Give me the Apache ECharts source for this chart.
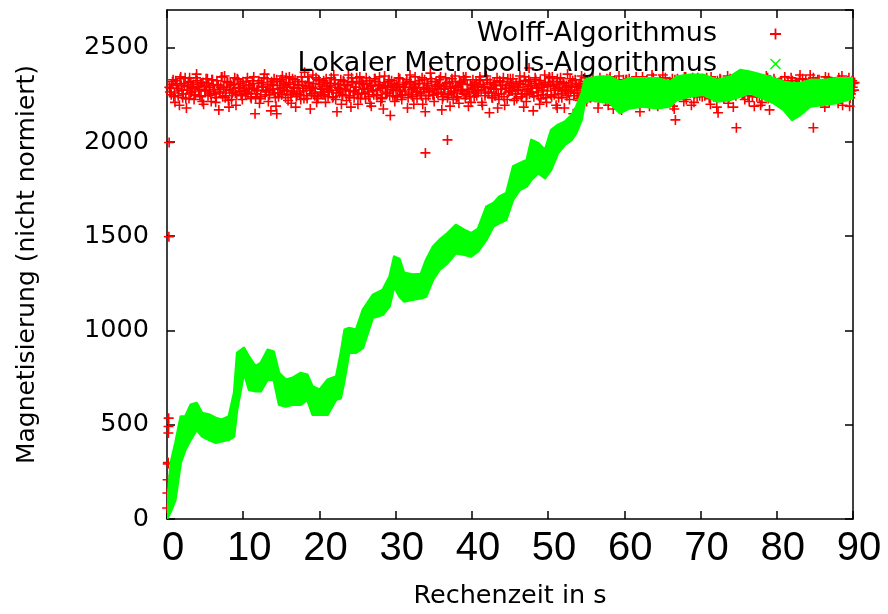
<!DOCTYPE html>
<html><head><meta charset="utf-8">
<script src="https://cdn.jsdelivr.net/npm/echarts@6/dist/echarts.min.js"></script>
<style>html,body{margin:0;padding:0;background:#fff}#c{width:888px;height:614px}</style>
</head><body><div id="c"></div>
<script>
// ---- Data ----
const xTickValues = [0,10,20,30,40,50,60,70,80,90];
const yTickValues = [0,500,1000,1500,2000,2500];

// Wolff algorithm: magnetisation samples (three interleaved runs of readings, step 0.25 s)
const wolffStep = 0.25;
const wolffStartA = 0.3;
const wolffA = [
2290,2250,2330,2210,2310,2270,2345,2235,2300,2180,2320,2260,2285,2225,2340,2295,2245,2310,2200,2275,
2335,2265,2215,2300,2255,2325,2170,2290,2240,2350,2280,2220,2315,2260,2305,2195,2330,2270,2245,2300,
2255,2340,2285,2230,2310,2150,2275,2325,2240,2295,2360,2265,2215,2305,2280,2335,2190,2260,2320,2250,
2310,2235,2290,2345,2205,2270,2330,2255,2300,2225,2285,2370,2245,2315,2175,2290,2260,2340,2230,2305,
2280,2325,2210,2295,2265,2340,2240,2310,2160,2285,2330,2250,2300,2220,2355,2270,2315,2235,2290,2200,
2345,2260,2305,2230,2285,2325,2190,2275,2335,2245,2300,2215,2290,2350,2255,2320,2140,2280,2310,2240,
2295,2335,2225,2305,2270,2180,2320,2250,2290,2345,2230,2310,2265,2200,2330,2285,2245,2365,2275,2215,
2320,2255,2300,2170,2285,2340,2235,2310,2265,2225,2350,2290,2205,2315,2270,2330,2250,2190,2305,2280,
2240,2315,2275,2345,2210,2295,2260,2330,2155,2285,2305,2245,2340,2225,2280,2320,2195,2300,2265,2335,
2270,2220,2310,2290,2350,2240,2185,2325,2280,2255,2300,2165,2340,2265,2305,2230,2290,2355,2210,2315,
2300,2345,2250,2195,2285,2320,2235,2310,2270,2360,2225,2295,2150,2330,2260,2305,2245,2285,2340,2215,
2285,2235,2325,2270,2300,2180,2340,2255,2310,2220,2290,2335,2245,2175,2315,2275,2350,2230,2300,2260,
2330,2265,2205,2305,2280,2345,2240,2160,2295,2320,2255,2310,2190,2270,2340,2225,2300,2285,2245,2355,
2260,2310,2290,2230,2335,2175,2280,2325,2250,2300,2215,2345,2270,2305,2195,2290,2330,2240,2315,2275,
2305,2245,2340,2285,2200,2320,2265,2295,2155,2335,2275,2230,2310,2350,2250,2290,2185,2325,2260,2300,
2280,2335,2225,2300,2265,2345,2240,2190,2315,2285,2330,2210,2295,2255,2340,2170,2305,2270,2320,2235,
2315,2260,2290,2345,2235,2300,2175,2325,2275,2250,2310,2355,2220,2285,2330,2200,2295,2265,2340,2245,
2290,2330,2250,2305,2185,2275,2340,2230,2310,2265,2320,2205,2300,2350,2240,2285,2325,2190,2270,2310
];
const wolffStartB = 0.383;
const wolffB = [
2265,2305,2240,2325,2285,2195,2300,2255,2340,2275,2230,2315,2290,2250,2360,2270,2310,2215,2295,2335,
2245,2290,2330,2270,2210,2305,2260,2345,2280,2235,2320,2185,2300,2265,2340,2250,2290,2310,2225,2275,
2320,2255,2300,2280,2345,2235,2270,2205,2315,2290,2250,2335,2275,2165,2305,2260,2330,2240,2285,2350,
2275,2340,2220,2305,2260,2290,2185,2320,2250,2345,2270,2300,2230,2315,2285,2355,2245,2210,2330,2265,
2295,2250,2335,2240,2310,2275,2355,2225,2290,2260,2200,2325,2280,2305,2245,2185,2320,2270,2340,2255,
2230,2310,2285,2340,2265,2205,2300,2250,2320,2275,2345,2235,2175,2295,2260,2330,2290,2245,2215,2305,
2340,2270,2250,2290,2315,2235,2355,2280,2200,2305,2265,2325,2245,2290,2160,2310,2270,2335,2250,2285,
2260,2300,2345,2225,2280,2310,2255,2190,2335,2270,2295,2240,2320,2275,2345,2230,2305,2265,2210,2330,
2305,2245,2270,2330,2195,2290,2350,2260,2315,2235,2280,2300,2180,2325,2255,2340,2285,2225,2300,2270,
2335,2290,2230,2275,2310,2255,2345,2215,2295,2320,2265,2240,2330,2285,2200,2305,2250,2315,2270,2345,
2250,2320,2285,2305,2235,2340,2270,2180,2300,2260,2335,2290,2245,2310,2275,2220,2350,2265,2295,2230,
2310,2270,2340,2245,2290,2215,2325,2280,2255,2300,2195,2345,2265,2320,2235,2305,2280,2170,2330,2290,
2275,2335,2250,2290,2320,2260,2205,2305,2345,2240,2280,2315,2230,2355,2270,2295,2190,2325,2255,2300,
2340,2240,2300,2265,2190,2330,2285,2250,2315,2275,2345,2225,2295,2260,2320,2210,2280,2340,2245,2305,
2265,2315,2285,2230,2345,2270,2305,2185,2290,2330,2250,2310,2275,2205,2335,2260,2300,2245,2320,2280,
2300,2255,2330,2275,2215,2310,2290,2345,2240,2265,2195,2320,2285,2350,2230,2305,2270,2335,2255,2290,
2245,2325,2270,2305,2285,2230,2340,2260,2175,2315,2290,2250,2335,2275,2300,2240,2355,2215,2285,2320,
2330,2280,2240,2295,2345,2265,2210,2320,2285,2250,2305,2340,2270,2195,2315,2260,2290,2235,2325,2275
];
const wolffStartC = 0.467;
const wolffC = [
2285,2320,2260,2300,2245,2335,2275,2310,2230,2295,2340,2265,2305,2250,2325,2280,2240,2315,2270,2300,
2310,2255,2330,2280,2235,2300,2265,2345,2290,2245,2315,2275,2225,2305,2260,2335,2285,2250,2320,2270,
2265,2300,2240,2325,2285,2255,2310,2230,2290,2340,2270,2305,2250,2320,2280,2235,2300,2260,2330,2290,
2300,2270,2315,2250,2335,2285,2240,2305,2265,2320,2230,2295,2345,2275,2255,2310,2285,2240,2325,2260,
2250,2315,2285,2270,2300,2235,2330,2260,2305,2280,2245,2320,2270,2300,2235,2340,2265,2290,2255,2310,
2320,2280,2255,2310,2240,2295,2270,2335,2250,2305,2285,2230,2315,2265,2300,2245,2325,2275,2290,2240,
2275,2245,2305,2290,2330,2260,2315,2240,2285,2270,2310,2255,2340,2280,2230,2300,2265,2320,2250,2295,
2305,2330,2265,2240,2295,2315,2250,2285,2320,2260,2235,2300,2275,2310,2255,2345,2280,2240,2300,2270,
2260,2290,2325,2275,2305,2245,2330,2265,2290,2235,2315,2280,2255,2320,2300,2240,2285,2335,2270,2310,
2295,2255,2280,2320,2240,2305,2270,2250,2330,2285,2260,2310,2290,2245,2325,2275,2305,2235,2295,2340,
2240,2305,2275,2335,2290,2255,2315,2280,2245,2300,2270,2325,2260,2295,2230,2310,2285,2250,2320,2265,
2325,2270,2300,2255,2315,2285,2240,2310,2265,2335,2290,2250,2305,2275,2320,2245,2300,2260,2285,2330,
2270,2310,2245,2295,2260,2320,2285,2305,2240,2275,2330,2290,2255,2315,2265,2300,2235,2325,2280,2250,
2300,2265,2320,2280,2250,2305,2335,2260,2295,2315,2245,2285,2310,2270,2340,2255,2295,2275,2305,2240,
2285,2330,2255,2310,2270,2240,2300,2325,2265,2290,2250,2320,2280,2235,2305,2275,2315,2260,2295,2335,
2255,2290,2315,2245,2305,2280,2265,2330,2300,2240,2285,2310,2255,2325,2270,2295,2245,2310,2280,2300,
2315,2275,2240,2300,2325,2260,2290,2250,2310,2285,2335,2270,2300,2245,2280,2320,2265,2295,2240,2305,
2270,2305,2290,2235,2315,2275,2250,2320,2285,2300,2260,2330,2245,2295,2310,2270,2340,2255,2290,2315
];
// Wolff: start-up points and isolated outliers
const wolffExtraT = [0.02,0.05,0.08,0.1,0.12,0.15,0.18,0.2,0.22,0.25,0.28,14.4,33.9,36.8,47.5,51.2,66.7,74.7,84.8];
const wolffExtraM = [58,138,208,292,300,297,456,491,535,1497,1997,2150,1942,2011,2392,2180,2117,2075,2075];

// Local Metropolis algorithm: lower / upper edge of the dense band of points
const metroT  = [0,0.5,1.1,1.8,2.4,3.1,3.9,4.6,5.5,6.4,7.2,8.1,8.8,9.2,10.1,10.75,11.6,12.3,13.2,14.0,14.7,15.6,16.4,17.55,18.4,19.1,20.0,21.05,22.2,22.8,23.3,23.9,24.8,25.7,27.0,28.3,29.2,29.8,30.5,31.1,32.2,33.3,34.0,34.9,35.75,36.8,37.9,39.0,39.9,40.8,41.9,42.8,43.6,44.5,45.4,46.3,47.2,47.8,48.7,49.6,50.4,51.3,52.2,53.1,53.7,54.4,54.8,55.5,56.8,58.1,59.4,60.75,62.5,64.3,66.0,66.9,68.6,70.4,72.2,73.9,75.2,76.5,78.1,79.6,80.9,82.0,83.1,84.4,86.2,87.9,90.0];
const metroLo = [0,40,100,298,367,420,473,438,420,404,412,420,438,580,775,686,677,677,739,739,606,597,606,606,633,553,553,553,633,640,740,882,882,907,1067,1083,1127,1233,1180,1154,1163,1171,1180,1269,1322,1357,1410,1401,1392,1419,1481,1551,1569,1587,1693,1746,1764,1799,1835,1808,1852,1941,1985,2011,2047,2117,2206,2223,2214,2206,2153,2179,2188,2179,2188,2223,2241,2250,2214,2223,2241,2259,2232,2206,2170,2117,2144,2188,2197,2206,2232];
const metroHi = [60,300,404,544,544,606,615,563,555,536,527,544,669,882,908,862,810,828,898,888,775,739,748,775,766,703,686,739,757,880,1004,1013,1004,1110,1189,1216,1286,1392,1380,1306,1297,1300,1375,1445,1481,1516,1560,1534,1516,1540,1657,1675,1710,1728,1870,1888,1905,2011,1994,1958,2064,2091,2108,2144,2188,2259,2329,2338,2347,2347,2320,2338,2338,2338,2320,2347,2356,2356,2329,2347,2382,2373,2356,2338,2320,2311,2311,2329,2329,2338,2338];

const nameWolff = 'Wolff-Algorithmus';
const nameMetro = 'Lokaler Metropolis-Algorithmus';

// ---- Build chart ----
const plusPath = 'path://M4.2,0 H5.8 V4.2 H10 V5.8 H5.8 V10 H4.2 V5.8 H0 V4.2 H4.2 Z';
const xPath = 'path://M0,1 L1,0 L5,4 L9,0 L10,1 L6,5 L10,9 L9,10 L5,6 L1,10 L0,9 L4,5 Z';

const wolffData = wolffExtraT.map((t,i)=>[t, wolffExtraM[i]])
  .concat(wolffA.map((m,i)=>[wolffStartA + i*wolffStep, m]))
  .concat(wolffB.map((m,i)=>[wolffStartB + i*wolffStep, m]))
  .concat(wolffC.map((m,i)=>[wolffStartC + i*wolffStep, m]));
const metroData = metroT.map((t,i)=>[t, metroLo[i], metroHi[i]]);

const axisLineStyle = {color:'#000', width:1.5};
const tickStyle = {show:true, inside:true, length:8, lineStyle:axisLineStyle};
const chart = echarts.init(document.getElementById('c'), null, {renderer:'canvas'});
chart.setOption({
  animation:false,
  backgroundColor:'#fff',
  grid:{left:167, right:35, top:10, bottom:95},
  legend:{
    orient:'vertical', right:102, top:15, align:'right', selectedMode:false,
    itemWidth:11, itemHeight:11, itemGap:2,
    textStyle:{fontFamily:'DejaVu Sans', fontSize:27, color:'#000', lineHeight:28, padding:[0,48,0,0]},
    data:[
      {name:nameWolff, icon:plusPath, itemStyle:{color:'#ff0000'}},
      {name:nameMetro, icon:xPath, itemStyle:{color:'#00ff00'}}
    ]
  },
  xAxis:[
    {type:'value', min:xTickValues[0], max:xTickValues[xTickValues.length-1], interval:10, position:'bottom',
     axisLine:{show:true, onZero:false, lineStyle:axisLineStyle}, axisTick:tickStyle,
     axisLabel:{fontFamily:'Liberation Sans', fontSize:40, color:'#000', margin:10, padding:[0,0,0,12], formatter:v=>String(v)},
     splitLine:{show:false},
     name:'Rechenzeit in s', nameLocation:'middle', nameGap:64,
     nameTextStyle:{fontFamily:'DejaVu Sans', fontSize:25.5, color:'#000'}},
    {type:'value', min:xTickValues[0], max:xTickValues[xTickValues.length-1], interval:10, position:'top',
     axisLine:{show:true, onZero:false, lineStyle:axisLineStyle}, axisTick:tickStyle,
     axisLabel:{show:false}, splitLine:{show:false}}
  ],
  yAxis:[
    {type:'value', min:yTickValues[0], max:2700, interval:500, position:'left',
     axisLine:{show:true, onZero:false, lineStyle:axisLineStyle}, axisTick:tickStyle,
     axisLabel:{fontFamily:'DejaVu Sans', fontSize:25.5, color:'#000', margin:18, showMaxLabel:false, formatter:v=>String(v)},
     splitLine:{show:false},
     name:'Magnetisierung (nicht normiert)', nameLocation:'middle', nameGap:127, nameRotate:90,
     nameTextStyle:{fontFamily:'DejaVu Sans', fontSize:25, color:'#000'}},
    {type:'value', min:yTickValues[0], max:2700, interval:500, position:'right',
     axisLine:{show:true, onZero:false, lineStyle:axisLineStyle}, axisTick:tickStyle,
     axisLabel:{show:false}, splitLine:{show:false}}
  ],
  series:[
    {type:'scatter', name:nameWolff, data:wolffData, symbol:plusPath, symbolSize:10,
     itemStyle:{color:'#ff0000', opacity:1}, z:2, clip:false, large:false},
    {type:'custom', name:nameMetro, data:metroData, encode:{x:0, y:[1,2]}, z:3, clip:true,
     itemStyle:{color:'#00ff00'},
     renderItem:function(params, api){
       if (params.dataIndex !== 0) return null;
       const pts = [];
       for (let i = 0; i < metroT.length; i++) pts.push(api.coord([metroT[i], metroHi[i]]));
       for (let i = metroT.length - 1; i >= 0; i--) pts.push(api.coord([metroT[i], metroLo[i]]));
       return {type:'polygon', shape:{points:pts}, style:{fill:'#00ff00', stroke:'#00ff00', lineWidth:2.5, lineJoin:'round'}};
     }}
  ]
});
</script>
</body></html>
